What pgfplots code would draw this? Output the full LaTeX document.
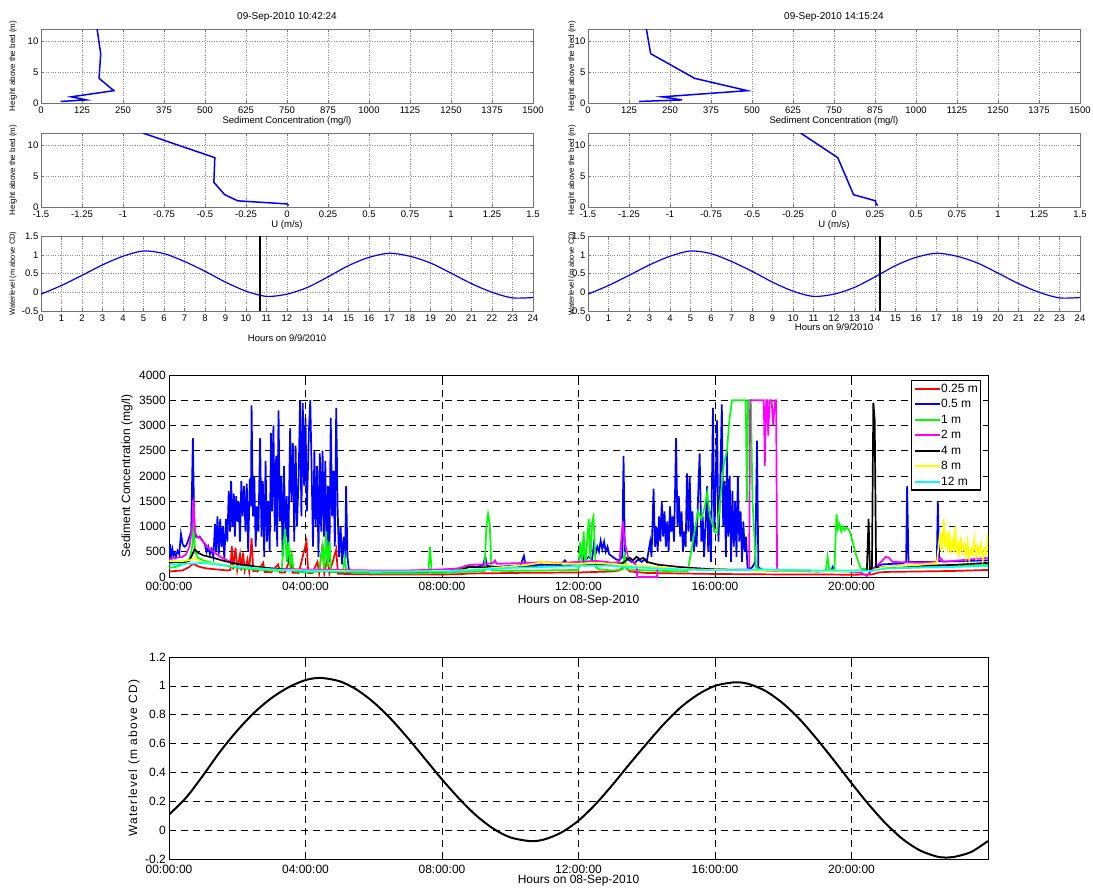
\documentclass[border=0pt]{standalone}
\usepackage{fontspec}
\setmainfont{Liberation Sans}
\usepackage{pgfplots}
\pgfplotsset{compat=1.18}

\definecolor{mred}{rgb}{1,0,0}
\definecolor{mblue}{rgb}{0,0,1}
\definecolor{mgreen}{rgb}{0,1,0}
\definecolor{mmag}{rgb}{1,0,1}
\definecolor{myel}{rgb}{1,1,0}
\definecolor{mcyan}{rgb}{0,1,1}

\newcommand\ftick{\fontsize{9.5}{10}\selectfont}
\newcommand\fyl{\fontsize{8}{9}\selectfont}
\newcommand\fbig{\fontsize{12}{13}\selectfont}

\pgfplotsset{
 topax/.style={
  scale only axis, width=492pt,
  axis line style={black!55},
  every tick/.append style={black!55, line width=0.4pt},
  tick align=inside, major tick length=3pt,
  grid=major, grid style={dotted, black!45, line width=0.4pt},
  ticklabel style={font=\ftick, inner sep=0pt},
  xticklabel style={anchor=center, yshift=-7pt},
  yticklabel style={anchor=east, xshift=-2.5pt},
  /pgf/number format/assume math mode=true,
  /pgf/number format/1000 sep={},
  xlabel style={font=\ftick, anchor=center},
  ylabel style={font=\fyl, anchor=center},
  every axis title/.style={at={(axis description cs:0.5,1.16)}, anchor=center, font=\fontsize{10}{11}\selectfont},
 },
 conc/.style={topax, height=74pt, xmin=0, xmax=1500, ymin=0, ymax=12,
  xtick={0,125,...,1500}, ytick={0,5,10},
  xlabel={Sediment Concentration (mg/l)},
  xlabel style={at={(axis description cs:0.5,-0.243)}},
  ylabel={Height above the bed (m)}},
 vel/.style={topax, height=74pt, xmin=-1.5, xmax=1.5, ymin=0, ymax=12,
  xtick={-1.5,-1.25,-1,-0.75,-0.5,-0.25,0,0.25,0.5,0.75,1,1.25,1.5},
  xticklabels={-1.5,-1.25,-1,-0.75,-0.5,-0.25,0,0.25,0.5,0.75,1,1.25,1.5},
  ytick={0,5,10},
  xlabel={U (m/s)},
  xlabel style={at={(axis description cs:0.5,-0.243)}},
  ylabel={Height above the bed (m)}},
 wl/.style={topax, height=75pt, xmin=0, xmax=24, ymin=-0.5, ymax=1.5,
  xtick={0,1,...,24}, ytick={-0.5,0,0.5,1,1.5},
  yticklabels={-0.5,0,0.5,1,1.5},
  xlabel={Hours on 9/9/2010},
  ylabel={Waterlevel (m above CD)},
  ylabel style={font=\fontsize{7.5}{8}\selectfont}},
 bigax/.style={scale only axis, width=819pt, height=202pt,
  xmin=0, xmax=24, xtick={0,4,...,20},
  xticklabels={00:00:00,04:00:00,08:00:00,12:00:00,16:00:00,20:00:00},
  axis line style={black, line width=1pt},
  every tick/.append style={black, line width=0.6pt},
  tick align=inside, major tick length=5pt,
  grid=major, grid style={black, line width=0.6pt, dash pattern=on 7pt off 5pt},
  ticklabel style={font=\fbig, inner sep=0pt},
  xticklabel style={anchor=center, yshift=-9pt},
  yticklabel style={anchor=east, xshift=-3pt},
  /pgf/number format/assume math mode=true,
  /pgf/number format/1000 sep={},
  xlabel style={font=\fbig, anchor=center},
  ylabel style={font=\fbig, anchor=center},
  xlabel={Hours on 08-Sep-2010}},
 ser/.style={line width=1.7pt},
}

\begin{document}
\begin{tikzpicture}
\useasboundingbox (0,0) rectangle (1093pt,-887pt);
\fill[white] (0,0) rectangle (1093pt,-887pt);

% ---------- top left column ----------
\begin{axis}[conc, at={(41pt,-29pt)}, anchor=north west,
  title={09-Sep-2010 10:42:24},
  ylabel style={at={(axis description cs:-0.057,0.5)}}]
\addplot[mblue, line width=1.5pt] coordinates {(60,0.25) (138,0.5) (92,1) (222,2) (177,4) (182,8) (171,12)};
\end{axis}

\begin{axis}[vel, at={(41pt,-133pt)}, anchor=north west,
  ylabel style={at={(axis description cs:-0.057,0.5)}}]
\addplot[mblue, line width=1.5pt] coordinates {(0.01,0.25) (0.0,0.5) (-0.30,1) (-0.38,2) (-0.446,4) (-0.44,8) (-0.88,12)};
\end{axis}

\begin{axis}[wl, at={(41pt,-236pt)}, anchor=north west,
  xlabel style={at={(axis description cs:0.5,-0.36)}},
  ylabel style={at={(axis description cs:-0.057,0.5)}}]
\addplot[mblue, line width=1.2pt, smooth] coordinates {(0,-0.05) (1,0.18) (2,0.45) (3,0.73) (4,0.96) (5,1.10) (6,1.03) (7,0.82) (8,0.56) (9,0.27) (10,0.03) (11,-0.11) (12,-0.05) (13,0.13) (14,0.41) (15,0.71) (16,0.93) (17,1.04) (18,0.96) (19,0.78) (20,0.51) (21,0.23) (22,0.0) (23,-0.15) (24,-0.14)};
\addplot[black, line width=2.2pt] coordinates {(10.7,-0.5) (10.7,1.5)};
\end{axis}

% ---------- top right column ----------
\begin{axis}[conc, at={(588pt,-29pt)}, anchor=north west,
  title={09-Sep-2010 14:15:24},
  ylabel style={at={(axis description cs:-0.0325,0.5)}}]
\addplot[mblue, line width=1.5pt] coordinates {(155,0.25) (287,0.5) (226,1) (486,2) (325,4) (191,8) (178,12)};
\end{axis}

\begin{axis}[vel, at={(588pt,-133pt)}, anchor=north west,
  ylabel style={at={(axis description cs:-0.0325,0.5)}}]
\addplot[mblue, line width=1.5pt] coordinates {(0.268,0.25) (0.257,0.5) (0.253,1) (0.119,2) (0.087,4) (0.023,8) (-0.204,12)};
\end{axis}

\begin{axis}[wl, at={(588pt,-236pt)}, anchor=north west,
  xlabel style={at={(axis description cs:0.5,-0.213)}},
  ylabel style={at={(axis description cs:-0.0325,0.5)}}]
\addplot[mblue, line width=1.2pt, smooth] coordinates {(0,-0.05) (1,0.18) (2,0.45) (3,0.73) (4,0.96) (5,1.10) (6,1.03) (7,0.82) (8,0.56) (9,0.27) (10,0.03) (11,-0.11) (12,-0.05) (13,0.13) (14,0.41) (15,0.71) (16,0.93) (17,1.04) (18,0.96) (19,0.78) (20,0.51) (21,0.23) (22,0.0) (23,-0.15) (24,-0.14)};
\addplot[black, line width=2.2pt] coordinates {(14.25,-0.5) (14.25,1.5)};
\end{axis}

% ---------- middle: sediment concentration time series ----------
\begin{axis}[bigax, at={(169pt,-375pt)}, anchor=north west,
  ymin=0, ymax=4000, ytick={0,500,...,4000},
  xlabel style={at={(axis description cs:0.5,-0.119)}},
  ylabel={Sediment Concentration (mg/l)},
  ylabel style={at={(axis description cs:-0.0513,0.5)}},
  legend style={at={(0.9915,0.975)}, anchor=north east, draw=black, line width=1.1pt,
    fill=white, font=\fbig, row sep=3.1pt, inner sep=2pt,
    nodes={inner sep=0.6pt, text height=8.8pt, text depth=2.4pt}},
  legend cell align=left,
  legend image code/.code={\draw[#1, line width=1.8pt] (0pt,0pt) -- (25pt,0pt);}]
% 0.25 m
\addplot[mred, ser] coordinates {(0,110) (0.2,120) (0.4,130) (0.6,200) (0.7,260) (0.8,230) (0.9,200) (1.1,170) (1.4,150) (1.7,130) (1.8,140) (1.84,610) (1.88,150) (1.95,580) (2.0,140) (2.08,450) (2.12,130) (2.17,480) (2.22,130) (2.3,350) (2.35,120) (2.42,770) (2.47,120) (2.6,110) (2.76,280) (2.8,100) (3.0,95) (3.2,250) (3.25,90) (3.4,90) (3.57,410) (3.62,85) (3.8,80) (4.03,710) (4.08,80) (4.2,75) (4.35,300) (4.4,75) (4.5,650) (4.55,70) (4.65,400) (4.7,70) (4.9,550) (4.95,65) (5.2,60) (5.5,55) (6,50) (7,50) (8,50) (8.5,55) (8.8,70) (9.5,75) (10,80) (11,85) (12,90) (12.5,100) (13,110) (13.2,130) (13.35,220) (13.5,110) (14,80) (15,70) (16,60) (17,55) (18,50) (19,50) (20,45) (20.6,50) (20.8,90) (21,100) (22,110) (23,120) (24,140)};
\addlegendentry{0.25 m}
% 0.5 m
\addplot[mblue, ser] coordinates {(0,450) (0.03,650) (0.06,400) (0.1,550) (0.13,420) (0.17,480) (0.2,400) (0.25,520) (0.3,450) (0.35,850) (0.4,650) (0.45,600) (0.5,620) (0.55,700) (0.6,800) (0.65,900) (0.7,2750) (0.74,1000) (0.78,800) (0.85,780) (0.9,800) (1.0,700) (1.05,650) (1.1,500) (1.15,600) (1.2,450) (1.25,550) (1.3,400)
(1.35,1050) (1.38,500) (1.42,1200) (1.46,450) (1.5,1150) (1.54,600) (1.58,1000) (1.62,350) (1.67,1150) (1.71,700) (1.75,1700) (1.79,900) (1.82,1900) (1.86,1000) (1.9,1650) (1.93,800) (1.97,1600) (2.0,1100) (2.04,1500) (2.08,700) (2.12,1900) (2.16,1200) (2.2,1800) (2.24,900) (2.28,1850) (2.32,500) (2.37,1950) (2.4,1400) (2.42,3400) (2.46,1200) (2.5,2000) (2.54,600) (2.58,1400) (2.62,900) (2.67,2750) (2.71,800) (2.75,1900) (2.79,400) (2.83,2300) (2.87,700) (2.91,1500) (2.95,500) (2.99,2850) (3.02,1300) (3.06,3000) (3.1,900) (3.14,2400) (3.17,600) (3.21,3300) (3.25,1100) (3.29,2000) (3.33,400) (3.37,2200) (3.41,800) (3.45,1600) (3.49,300) (3.55,2950) (3.59,1500) (3.63,2650) (3.67,700) (3.71,2600) (3.75,1000) (3.8,2000) (3.84,3500) (3.88,1200) (3.92,3450) (3.96,1800) (4.0,3150) (4.04,1300) (4.1,2900) (4.14,3500) (4.18,2100) (4.22,600) (4.26,2500) (4.3,1000) (4.34,2200) (4.38,400) (4.42,2450) (4.46,900) (4.5,2500) (4.54,800) (4.58,2300) (4.62,500) (4.66,1800) (4.7,300) (4.74,3150) (4.78,1200) (4.82,2100) (4.86,600) (4.9,3350) (4.94,1400) (4.98,400) (5.03,1000) (5.07,250) (5.12,800) (5.16,300) (5.19,1800) (5.23,400) (5.27,150)
(5.35,120) (5.6,110) (6,100) (6.5,110) (7,120) (7.5,130) (8,140) (8.5,170) (8.7,220) (9.0,200) (9.2,230) (9.27,400) (9.32,220) (9.6,200) (10.0,220) (10.3,230) (10.4,420) (10.45,230) (10.8,240) (11.2,250) (11.5,260) (11.6,330) (11.65,270) (11.9,260) (12.0,300) (12.1,550) (12.15,300) (12.3,400) (12.4,350) (12.45,650) (12.5,450) (12.55,600) (12.6,500) (12.65,720) (12.7,550) (12.75,700) (12.8,500) (12.85,600) (12.9,450) (13.0,400) (13.1,350) (13.2,330) (13.28,400) (13.32,2400) (13.36,400) (13.45,350) (13.55,300) (13.65,280) (13.75,350) (13.85,300) (13.95,350) (14.0,300)
(14.05,500) (14.1,700) (14.14,400) (14.2,1750) (14.24,600) (14.28,1000) (14.32,500) (14.36,1200) (14.4,700) (14.44,1500) (14.48,800) (14.52,1300) (14.56,600) (14.6,1100) (14.64,500) (14.68,1400) (14.72,900) (14.76,1200) (14.8,700) (14.86,2750) (14.9,1000) (14.94,1600) (14.98,800) (15.02,1300) (15.06,500) (15.1,900) (15.14,600) (15.18,2050) (15.22,900) (15.26,2000) (15.3,700) (15.34,1300) (15.38,500) (15.42,1000) (15.46,600) (15.5,1500) (15.55,2450) (15.6,700) (15.64,1200) (15.68,400) (15.72,1000) (15.77,1800) (15.8,500) (15.84,1300) (15.88,300) (15.94,3350) (15.98,900) (16.02,1800) (16.06,3100) (16.1,700) (16.14,1500) (16.2,3420) (16.24,1000) (16.28,1900) (16.32,400) (16.35,2500) (16.39,800) (16.43,2000) (16.47,300) (16.51,1700) (16.55,600) (16.59,1500) (16.63,400) (16.67,2000) (16.71,700) (16.75,1300) (16.79,300) (16.83,1100) (16.87,500) (16.91,800) (16.95,200) (17.0,150) (17.1,200) (17.18,300) (17.23,2700) (17.27,200) (17.35,150) (17.5,130) (18,120) (18.5,120) (19,110) (19.4,120) (19.45,200) (19.5,120) (20,110) (20.5,120) (20.7,200) (20.9,250) (21.2,260) (21.5,270) (21.6,300) (21.63,1800) (21.67,300) (22,300) (22.5,300) (22.53,1500) (22.57,310) (23,310) (23.5,320) (24,330)};
\addlegendentry{0.5 m}
% 1 m
\addplot[mgreen, ser] coordinates {(0,180) (0.2,200) (0.4,250) (0.6,350) (0.68,600) (0.72,1150) (0.76,500) (0.85,380) (1.0,330) (1.3,280) (1.6,230) (2.0,180) (2.5,150) (3.0,130) (3.3,120) (3.35,600) (3.4,950) (3.45,300) (3.5,700) (3.55,200) (3.6,450) (3.65,120) (3.8,100) (4.2,100) (4.4,110) (4.5,600) (4.55,150) (4.6,900) (4.65,200) (4.7,700) (4.75,100) (5.1,100) (5.15,400) (5.2,100) (5.5,80) (6,70) (7,70) (7.6,70) (7.65,600) (7.7,80) (8,80) (8.5,100) (9,110) (9.25,120) (9.3,1000) (9.35,1250) (9.4,1050) (9.45,130) (10,120) (11,130) (12,140) (12.05,700) (12.1,300) (12.15,900) (12.2,200) (12.3,1150) (12.35,300) (12.4,1100) (12.44,1200) (12.5,200) (12.6,150) (13,130) (13.3,150) (13.35,500) (13.4,150) (14,130) (15,110) (15.2,120) (15.3,500) (15.4,900) (15.5,1300) (15.6,1150) (15.7,1400) (15.77,1670) (15.85,1200) (15.95,1000) (16.0,880) (16.06,880) (16.15,1500) (16.25,2200) (16.35,2500) (16.42,3100) (16.5,3500) (16.9,3500) (16.94,1500) (16.97,3500) (17.05,3500) (17.1,1500) (17.2,200) (17.3,150) (18,120) (19,110) (19.25,130) (19.3,400) (19.35,130) (19.5,150) (19.56,1250) (19.6,950) (19.65,1050) (19.7,900) (19.75,1000) (19.8,930) (19.85,980) (19.9,950) (19.95,900) (20.05,650) (20.15,400) (20.27,170) (20.6,140) (21,170) (22,190) (23,210) (24,240)};
\addlegendentry{1 m}
% 2 m
\addplot[mmag, ser] coordinates {(0,350) (0.2,380) (0.4,400) (0.5,450) (0.6,600) (0.68,1000) (0.72,1550) (0.76,900) (0.82,800) (0.9,780) (1.0,700) (1.2,550) (1.5,400) (1.8,300) (2.2,230) (2.6,190) (3.0,170) (3.5,160) (4,150) (5,140) (6,130) (7,130) (8,150) (8.5,170) (8.8,240) (9.2,250) (9.5,280) (9.55,330) (9.6,260) (10,270) (10.5,280) (11,290) (11.5,280) (12,300) (12.5,320) (12.8,300) (13.0,280) (13.2,300) (13.3,1100) (13.35,700) (13.45,400) (13.6,300) (13.7,220) (13.72,0) (14.3,0) (14.32,220) (14.5,230) (15,200) (15.5,170) (16,150) (16.5,140) (17.0,150) (17.03,3500) (17.43,3500) (17.46,2200) (17.5,3500) (17.53,3500) (17.56,2800) (17.6,3500) (17.66,3500) (17.7,3000) (17.76,3500) (17.79,3500) (17.82,150) (18,130) (19,120) (20,110) (20.3,80) (20.45,20) (20.55,100) (20.7,200) (20.9,320) (21.0,400) (21.1,380) (21.2,300) (22,280) (22.5,300) (22.6,380) (22.7,300) (23,320) (24,380)};
\addlegendentry{2 m}
% 4 m
\addplot[black, ser] coordinates {(0,280) (0.2,300) (0.4,290) (0.6,320) (0.75,550) (0.85,480) (1.0,430) (1.3,380) (1.6,320) (2.0,260) (2.5,210) (3.0,170) (3.5,140) (4.0,120) (4.5,115) (5,110) (6,100) (7,100) (8,110) (8.5,130) (8.8,200) (9.2,190) (9.5,200) (10,200) (11,210) (12,230) (12.5,250) (13.0,230) (13.3,280) (13.5,380) (13.6,330) (13.7,400) (13.8,350) (13.9,380) (14.0,300) (14.3,250) (14.6,220) (15,190) (16,150) (17,140) (18,130) (19,120) (20,120) (20.45,130) (20.5,1150) (20.54,130) (20.6,200) (20.64,3450) (20.68,3100) (20.72,200) (20.8,180) (21,200) (22,220) (23,240) (24,280)};
\addlegendentry{4 m}
% 8 m
\addplot[myel, ser] coordinates {(0,320) (0.3,310) (0.6,330) (0.75,380) (0.9,300) (1.2,280) (1.6,240) (2.0,210) (2.5,180) (3.0,150) (3.5,140) (4,130) (5,120) (6,110) (7,110) (8,120) (8.5,130) (9,150) (9.5,180) (10,210) (10.5,240) (10.85,280) (10.9,330) (10.95,280) (11.5,270) (12,260) (12.5,270) (13,260) (13.5,230) (14,210) (14.5,200) (15,160) (16,140) (17,130) (18,125) (19,120) (20,115) (20.6,120) (20.8,170) (21,200) (21.5,220) (22,240) (22.5,280) (22.55,600) (22.6,900) (22.65,500) (22.7,1150) (22.74,600) (22.78,800) (22.82,500) (22.86,900) (22.9,450) (22.95,750) (23.0,500) (23.04,1000) (23.08,450) (23.12,700) (23.16,400) (23.2,800) (23.25,500) (23.3,650) (23.35,400) (23.4,700) (23.45,350) (23.5,550) (23.55,450) (23.6,750) (23.65,400) (23.7,600) (23.75,450) (23.8,650) (23.85,350) (23.9,550) (23.95,450) (24,850)};
\addlegendentry{8 m}
% 12 m
\addplot[mcyan, ser] coordinates {(0,250) (0.5,260) (1,280) (2,200) (3,150) (4,120) (6,100) (8,110) (9,140) (10,180) (12,220) (13,220) (14,180) (15,150) (16,130) (17,140) (17.5,150) (18,140) (19,130) (20,130) (20.6,120) (21,170) (22,190) (23,200) (24,220)};
\addlegendentry{12 m}
\end{axis}

% ---------- bottom: water level ----------
\begin{axis}[bigax, at={(169pt,-657pt)}, anchor=north west,
  ymin=-0.2, ymax=1.2, ytick={-0.2,0,0.2,0.4,0.6,0.8,1,1.2},
  yticklabels={-0.2,0,0.2,0.4,0.6,0.8,1,1.2},
  xticklabel style={yshift=-1pt},
  xlabel style={at={(axis description cs:0.5,-0.109)}},
  ylabel={\addfontfeature{LetterSpace=10}Waterlevel (m above CD)},
  ylabel style={at={(axis description cs:-0.0427,0.5)}}]
\addplot[black, line width=2pt, smooth] coordinates {(0,0.108) (0.5,0.225) (1.0,0.38) (1.5,0.545) (2.0,0.69) (2.5,0.815) (3.0,0.915) (3.5,0.99) (4.0,1.04) (4.44,1.055) (5.0,1.032) (5.5,0.974) (6.0,0.885) (6.5,0.771) (7.0,0.638) (7.5,0.495) (8.0,0.352) (8.5,0.219) (9.0,0.102) (9.5,0.011) (10.0,-0.050) (10.6,-0.076) (11.0,-0.064) (11.5,-0.016) (12.0,0.066) (12.5,0.18) (13.0,0.315) (13.5,0.46) (14.0,0.60) (14.5,0.735) (15.0,0.852) (15.5,0.94) (16.0,1.0) (16.59,1.025) (17.0,1.012) (17.5,0.962) (18.0,0.877) (18.5,0.764) (19.0,0.627) (19.5,0.479) (20.0,0.326) (20.5,0.179) (21.0,0.047) (21.5,-0.062) (22.0,-0.140) (22.5,-0.183) (22.81,-0.19) (23.0,-0.186) (23.5,-0.152) (24.0,-0.075)};
\end{axis}
\end{tikzpicture}
\end{document}
